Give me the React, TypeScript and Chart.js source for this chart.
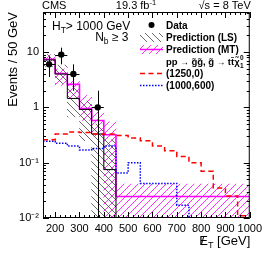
import React, { useEffect, useRef } from "react";
import { Chart, registerables } from "chart.js";

Chart.register(...registerables);

// ---- data ----
const binLowEdges = [150, 200, 250, 300, 350, 400, 450, 500, 550, 600, 650, 700, 750, 800, 850, 900, 950];
const binWidth = 50;
const xMin = 150;
const xMax = 1000;
const yMin = 0.01;
const yMax = 53;
const ZERO = 1e-4; // stands for "zero" on the log axis (drawn below the frame)

const xTickValues = [200, 300, 400, 500, 600, 700, 800, 900, 1000];
const yTickValues = [0.01, 0.1, 1, 10];
const yTickLabels = ["10\u207B\u00B2", "10\u207B\u00B9", "1", "10"];

const dataX = [175, 225, 275, 375];
const dataY = [6, 9, 4, 1];
const dataErr = [2.45, 3.0, 2.0, 1.0];

const lsPred = [7.2, 4.0, 1.45, 0.92, 0.33, 0.075, 0, 0, 0, 0, 0, 0, 0, 0, 0, 0, 0];
const lsUp = [9.0, 5.8, 2.35, 1.3, 0.5, 0.26, 0, 0, 0, 0, 0, 0, 0, 0, 0, 0, 0];
const lsDown = [5.5, 2.7, 0.67, 0.25, 0, 0, 0, 0, 0, 0, 0, 0, 0, 0, 0, 0, 0];

const mtPred = [7.4, 4.1, 2.6, 0.95, 0.58, 0.32, 0.0244, 0.0244, 0.0244, 0.0244, 0.0244, 0.0244, 0.0244, 0.0244, 0.0244, 0.0244, 0.0244];
const mtUp = [9.0, 5.0, 3.1, 1.65, 0.85, 0.55, 0.041, 0.041, 0.041, 0.041, 0.041, 0.041, 0.041, 0.041, 0.041, 0.041, 0.041];
const mtDown = [6.0, 2.5, 1.45, 0.58, 0.3, 0, 0, 0, 0, 0, 0, 0, 0, 0, 0, 0, 0];

const sig1250 = [0.26, 0.33, 0.36, 0.35, 0.33, 0.33, 0.31, 0.28, 0.25, 0.2, 0.165, 0.13, 0.1, 0.07, 0.035, 0.025, 0.011];
const sig1000 = [0.245, 0.225, 0.2, 0.17, 0.18, 0.2, 0.065, 0.1, 0.042, 0.042, 0.042, 0.017, 0, 0, 0, 0, 0];

const FONT = "'Liberation Sans', Arial, Helvetica, sans-serif";
const MAGENTA = "#ff00ff";

type Part = { t: string; size: number; dy?: number; bold?: boolean };

function drawRich(ctx: CanvasRenderingContext2D, parts: Part[], x: number, y: number, align: "left" | "right" | "center") {
  const widths = parts.map((p) => {
    ctx.font = `${p.bold ? "bold " : ""}${p.size}px ${FONT}`;
    return ctx.measureText(p.t).width;
  });
  const total = widths.reduce((a, b) => a + b, 0);
  let cx = align === "left" ? x : align === "right" ? x - total : x - total / 2;
  ctx.textAlign = "left";
  ctx.textBaseline = "alphabetic";
  parts.forEach((p, i) => {
    ctx.font = `${p.bold ? "bold " : ""}${p.size}px ${FONT}`;
    ctx.fillText(p.t, cx, y + (p.dy || 0));
    cx += widths[i];
  });
  return cx;
}

function histPoints(vals: number[]) {
  const pts = vals.map((v, i) => ({ x: binLowEdges[i], y: v > 0 ? v : ZERO }));
  const last = vals[vals.length - 1];
  pts.push({ x: xMax, y: last > 0 ? last : ZERO });
  return pts;
}

function bandBars(lo: number[], hi: number[]) {
  const out: { x: number; y: [number, number] }[] = [];
  binLowEdges.forEach((e, i) => {
    if (hi[i] > 0) out.push({ x: e + binWidth / 2, y: [lo[i] > 0 ? lo[i] : ZERO, hi[i]] });
  });
  return out;
}

function makeHatch(color: string, dir: "back" | "fwd", size: number, lw: number) {
  const c = document.createElement("canvas");
  c.width = size;
  c.height = size;
  const g = c.getContext("2d")!;
  g.strokeStyle = color;
  g.lineWidth = lw;
  g.beginPath();
  for (const o of [-size, 0, size]) {
    if (dir === "back") {
      g.moveTo(o, 0);
      g.lineTo(o + size, size);
    } else {
      g.moveTo(o, size);
      g.lineTo(o + size, 0);
    }
  }
  g.stroke();
  return g.createPattern(c, "repeat")!;
}

export default function App() {
  const ref = useRef<HTMLCanvasElement>(null);

  useEffect(() => {
    document.body.style.margin = "0";
    const canvas = ref.current!;
    const lsHatch = makeHatch("#444", "back", 7, 0.8);
    const mtHatch = makeHatch(MAGENTA, "fwd", 7, 0.8);

    const rootPlugin = {
      id: "rootStyle",
      afterDraw(chart: any) {
        const ctx: CanvasRenderingContext2D = chart.ctx;
        const { left, right, top, bottom } = chart.chartArea;
        const xs = chart.scales.x;
        const ys = chart.scales.y;
        ctx.save();

        // data error bars
        ctx.save();
        ctx.beginPath();
        ctx.rect(left, top, right - left, bottom - top);
        ctx.clip();
        ctx.strokeStyle = "#000";
        ctx.lineWidth = 1;
        dataX.forEach((x, i) => {
          const px = Math.round(xs.getPixelForValue(x)) + 0.5;
          const py = Math.round(ys.getPixelForValue(dataY[i])) + 0.5;
          const lo = dataY[i] - dataErr[i];
          const pyLo = lo > 0 ? ys.getPixelForValue(lo) : bottom + 5;
          const pyHi = ys.getPixelForValue(dataY[i] + dataErr[i]);
          const pxL = xs.getPixelForValue(x - binWidth / 2);
          const pxR = xs.getPixelForValue(x + binWidth / 2);
          ctx.beginPath();
          ctx.moveTo(px, pyHi);
          ctx.lineTo(px, pyLo);
          ctx.moveTo(pxL, py);
          ctx.lineTo(pxR, py);
          ctx.stroke();
        });
        ctx.restore();

        // frame
        ctx.strokeStyle = "#000";
        ctx.lineWidth = 1;
        ctx.strokeRect(left + 0.5, top + 0.5, right - left - 1, bottom - top - 1);

        // ticks
        ctx.beginPath();
        for (let v = 160; v <= xMax; v += 20) {
          const px = Math.round(xs.getPixelForValue(v)) + 0.5;
          const len = v % 100 === 0 ? 6 : 3;
          ctx.moveTo(px, bottom);
          ctx.lineTo(px, bottom - len);
          ctx.moveTo(px, top);
          ctx.lineTo(px, top + len);
        }
        for (const d of [0.01, 0.1, 1, 10]) {
          for (let k = 1; k <= 9; k++) {
            const v = k * d;
            if (v < yMin || v > yMax) continue;
            const py = Math.round(ys.getPixelForValue(v)) + 0.5;
            const len = k === 1 ? 6 : 3;
            ctx.moveTo(left, py);
            ctx.lineTo(left + len, py);
            ctx.moveTo(right, py);
            ctx.lineTo(right - len, py);
          }
        }
        ctx.stroke();

        ctx.fillStyle = "#000";
        // top labels
        drawRich(ctx, [{ t: "CMS", size: 11 }], left - 1, 9, "left");
        drawRich(ctx, [{ t: "19.3 fb", size: 11 }, { t: "-1", size: 7.5, dy: -4.5 }], 136, 9, "center");
        drawRich(ctx, [{ t: "\u221As = 8 TeV", size: 11 }], right + 1, 9, "right");

        // selection labels
        drawRich(ctx, [{ t: "H", size: 12 }, { t: "T", size: 8.5, dy: 3 }, { t: "> 1000 GeV", size: 12 }], 52, 29.5, "left");
        drawRich(ctx, [{ t: "N", size: 12 }, { t: "b", size: 8.5, dy: 3 }, { t: " \u2265 3", size: 12 }], 128.5, 41, "right");

        // legend
        const tx = 166;
        const rows = [25, 37.5, 49.5, 61.5, 73.5, 85.5];
        const sx0 = 140;
        const sx1 = 163;
        // Data
        ctx.beginPath();
        ctx.arc(151.5, rows[0], 3, 0, Math.PI * 2);
        ctx.fill();
        drawRich(ctx, [{ t: "Data", size: 10, bold: true }], tx, rows[0] + 3.6, "left");
        // LS
        ctx.fillStyle = lsHatch;
        ctx.fillRect(sx0, rows[1] - 4.5, sx1 - sx0, 9);
        ctx.fillStyle = "#000";
        drawRich(ctx, [{ t: "Prediction (LS)", size: 10, bold: true }], tx, rows[1] + 3.6, "left");
        // MT
        ctx.fillStyle = mtHatch;
        ctx.fillRect(sx0, rows[2] - 4.5, sx1 - sx0, 9);
        ctx.strokeStyle = MAGENTA;
        ctx.lineWidth = 1.5;
        ctx.beginPath();
        ctx.moveTo(sx0, rows[2]);
        ctx.lineTo(sx1, rows[2]);
        ctx.stroke();
        ctx.fillStyle = "#000";
        drawRich(ctx, [{ t: "Prediction (MT)", size: 10, bold: true }], tx, rows[2] + 3.6, "left");
        // process
        const endX = drawRich(
          ctx,
          [
            { t: "pp ", size: 9.5, bold: true },
            { t: "\u2192", size: 8.5 },
            { t: " g\u0303g\u0303, g\u0303 ", size: 9.5, bold: true },
            { t: "\u2192", size: 8.5 },
            { t: " tt\u0304\u03C7\u0303", size: 9.5, bold: true },
          ],
          tx,
          rows[3] + 3.6,
          "left"
        );
        drawRich(ctx, [{ t: "0", size: 6.5, bold: true }], endX + 0.3, rows[3] - 1.5, "left");
        drawRich(ctx, [{ t: "1", size: 6.5, bold: true }], endX + 0.3, rows[3] + 6, "left");
        // red
        ctx.strokeStyle = "#ff0000";
        ctx.lineWidth = 1.5;
        ctx.setLineDash([5, 3.5]);
        ctx.beginPath();
        ctx.moveTo(sx0, rows[4]);
        ctx.lineTo(sx1, rows[4]);
        ctx.stroke();
        ctx.strokeStyle = "#0000ff";
        ctx.setLineDash([1.5, 1.5]);
        ctx.beginPath();
        ctx.moveTo(sx0, rows[5]);
        ctx.lineTo(sx1, rows[5]);
        ctx.stroke();
        ctx.setLineDash([]);
        drawRich(ctx, [{ t: "(1250,0)", size: 10, bold: true }], tx, rows[4] + 3.6, "left");
        drawRich(ctx, [{ t: "(1000,600)", size: 10, bold: true }], tx, rows[5] + 3.6, "left");

        // y title
        ctx.save();
        ctx.translate(16.5, top);
        ctx.rotate(-Math.PI / 2);
        ctx.font = `13px ${FONT}`;
        ctx.textAlign = "right";
        ctx.textBaseline = "alphabetic";
        ctx.fillText("Events / 50 GeV", 0, 0);
        ctx.restore();

        // x title (missing E_T)
        const parts: Part[] = [{ t: "E", size: 13 }, { t: "T", size: 9, dy: 3 }, { t: " [GeV]", size: 13 }];
        const widths = parts.map((p) => {
          ctx.font = `${p.size}px ${FONT}`;
          return ctx.measureText(p.t).width;
        });
        const total = widths.reduce((a, b) => a + b, 0);
        const startX = right + 0.5 - total;
        drawRich(ctx, parts, right + 0.5, 245, "right");
        ctx.font = `13px ${FONT}`;
        ctx.fillText("/", startX + 1.5, 245);

        ctx.restore();
      },
    };

    const chart = new Chart(canvas, {
      type: "line",
      data: {
        datasets: [
          {
            type: "line",
            label: "Data",
            data: dataX.map((x, i) => ({ x, y: dataY[i] })),
            showLine: false,
            pointRadius: 3.2,
            pointBackgroundColor: "#000",
            pointBorderWidth: 0,
            order: 0,
          } as any,
          {
            type: "line",
            label: "(1250,0)",
            data: histPoints(sig1250),
            stepped: "before",
            borderColor: "#ff0000",
            borderWidth: 1.5,
            borderDash: [5, 3.5],
            pointRadius: 0,
            fill: false,
            order: 1,
          },
          {
            type: "line",
            label: "(1000,600)",
            data: histPoints(sig1000),
            stepped: "before",
            borderColor: "#0000ff",
            borderWidth: 1.5,
            borderDash: [1.5, 1.5],
            pointRadius: 0,
            fill: false,
            order: 2,
          },
          {
            type: "line",
            label: "Prediction (LS)",
            data: histPoints(lsPred),
            stepped: "before",
            borderColor: "#000",
            borderWidth: 1,
            pointRadius: 0,
            fill: false,
            order: 3,
          },
          {
            type: "line",
            label: "Prediction (MT)",
            data: histPoints(mtPred),
            stepped: "before",
            borderColor: MAGENTA,
            borderWidth: 1.6,
            pointRadius: 0,
            fill: false,
            order: 4,
          },
          {
            type: "bar",
            label: "LS band",
            data: bandBars(lsDown, lsUp),
            backgroundColor: lsHatch,
            borderWidth: 0,
            barPercentage: 1,
            categoryPercentage: 1,
            grouped: false,
            order: 5,
          } as any,
          {
            type: "bar",
            label: "MT band",
            data: bandBars(mtDown, mtUp),
            backgroundColor: mtHatch,
            borderWidth: 0,
            barPercentage: 1,
            categoryPercentage: 1,
            grouped: false,
            order: 6,
          } as any,
        ],
      },
      options: {
        responsive: false,
        animation: false,
        devicePixelRatio: 1,
        layout: { padding: { left: 0, right: 14, top: 12, bottom: 0 } },
        plugins: { legend: { display: false }, tooltip: { enabled: false } },
        scales: {
          x: {
            type: "linear",
            min: xMin,
            max: xMax,
            offset: false,
            grid: { display: false, drawTicks: false },
            border: { display: false },
            afterBuildTicks: (s: any) => {
              s.ticks = xTickValues.map((v) => ({ value: v }));
            },
            afterFit: (s: any) => {
              s.height = 35;
            },
            ticks: {
              autoSkip: false,
              maxRotation: 0,
              minRotation: 0,
              padding: 4,
              color: "#000",
              font: { family: FONT, size: 11 },
              callback: (v: any) => String(v),
            },
          },
          y: {
            type: "logarithmic",
            min: yMin,
            max: yMax,
            grid: { display: false, drawTicks: false },
            border: { display: false },
            afterBuildTicks: (s: any) => {
              s.ticks = yTickValues.map((v) => ({ value: v }));
            },
            afterFit: (s: any) => {
              s.width = 43;
            },
            ticks: {
              autoSkip: false,
              padding: 4,
              color: "#000",
              font: { family: FONT, size: 11 },
              callback: (_v: any, i: number) => yTickLabels[i],
            },
          },
        },
      } as any,
      plugins: [rootPlugin],
    });

    return () => chart.destroy();
  }, []);

  return (
    <div style={{ width: 266, height: 253 }}>
      <canvas ref={ref} width={266} height={253} style={{ display: "block", width: 266, height: 253 }} />
    </div>
  );
}
